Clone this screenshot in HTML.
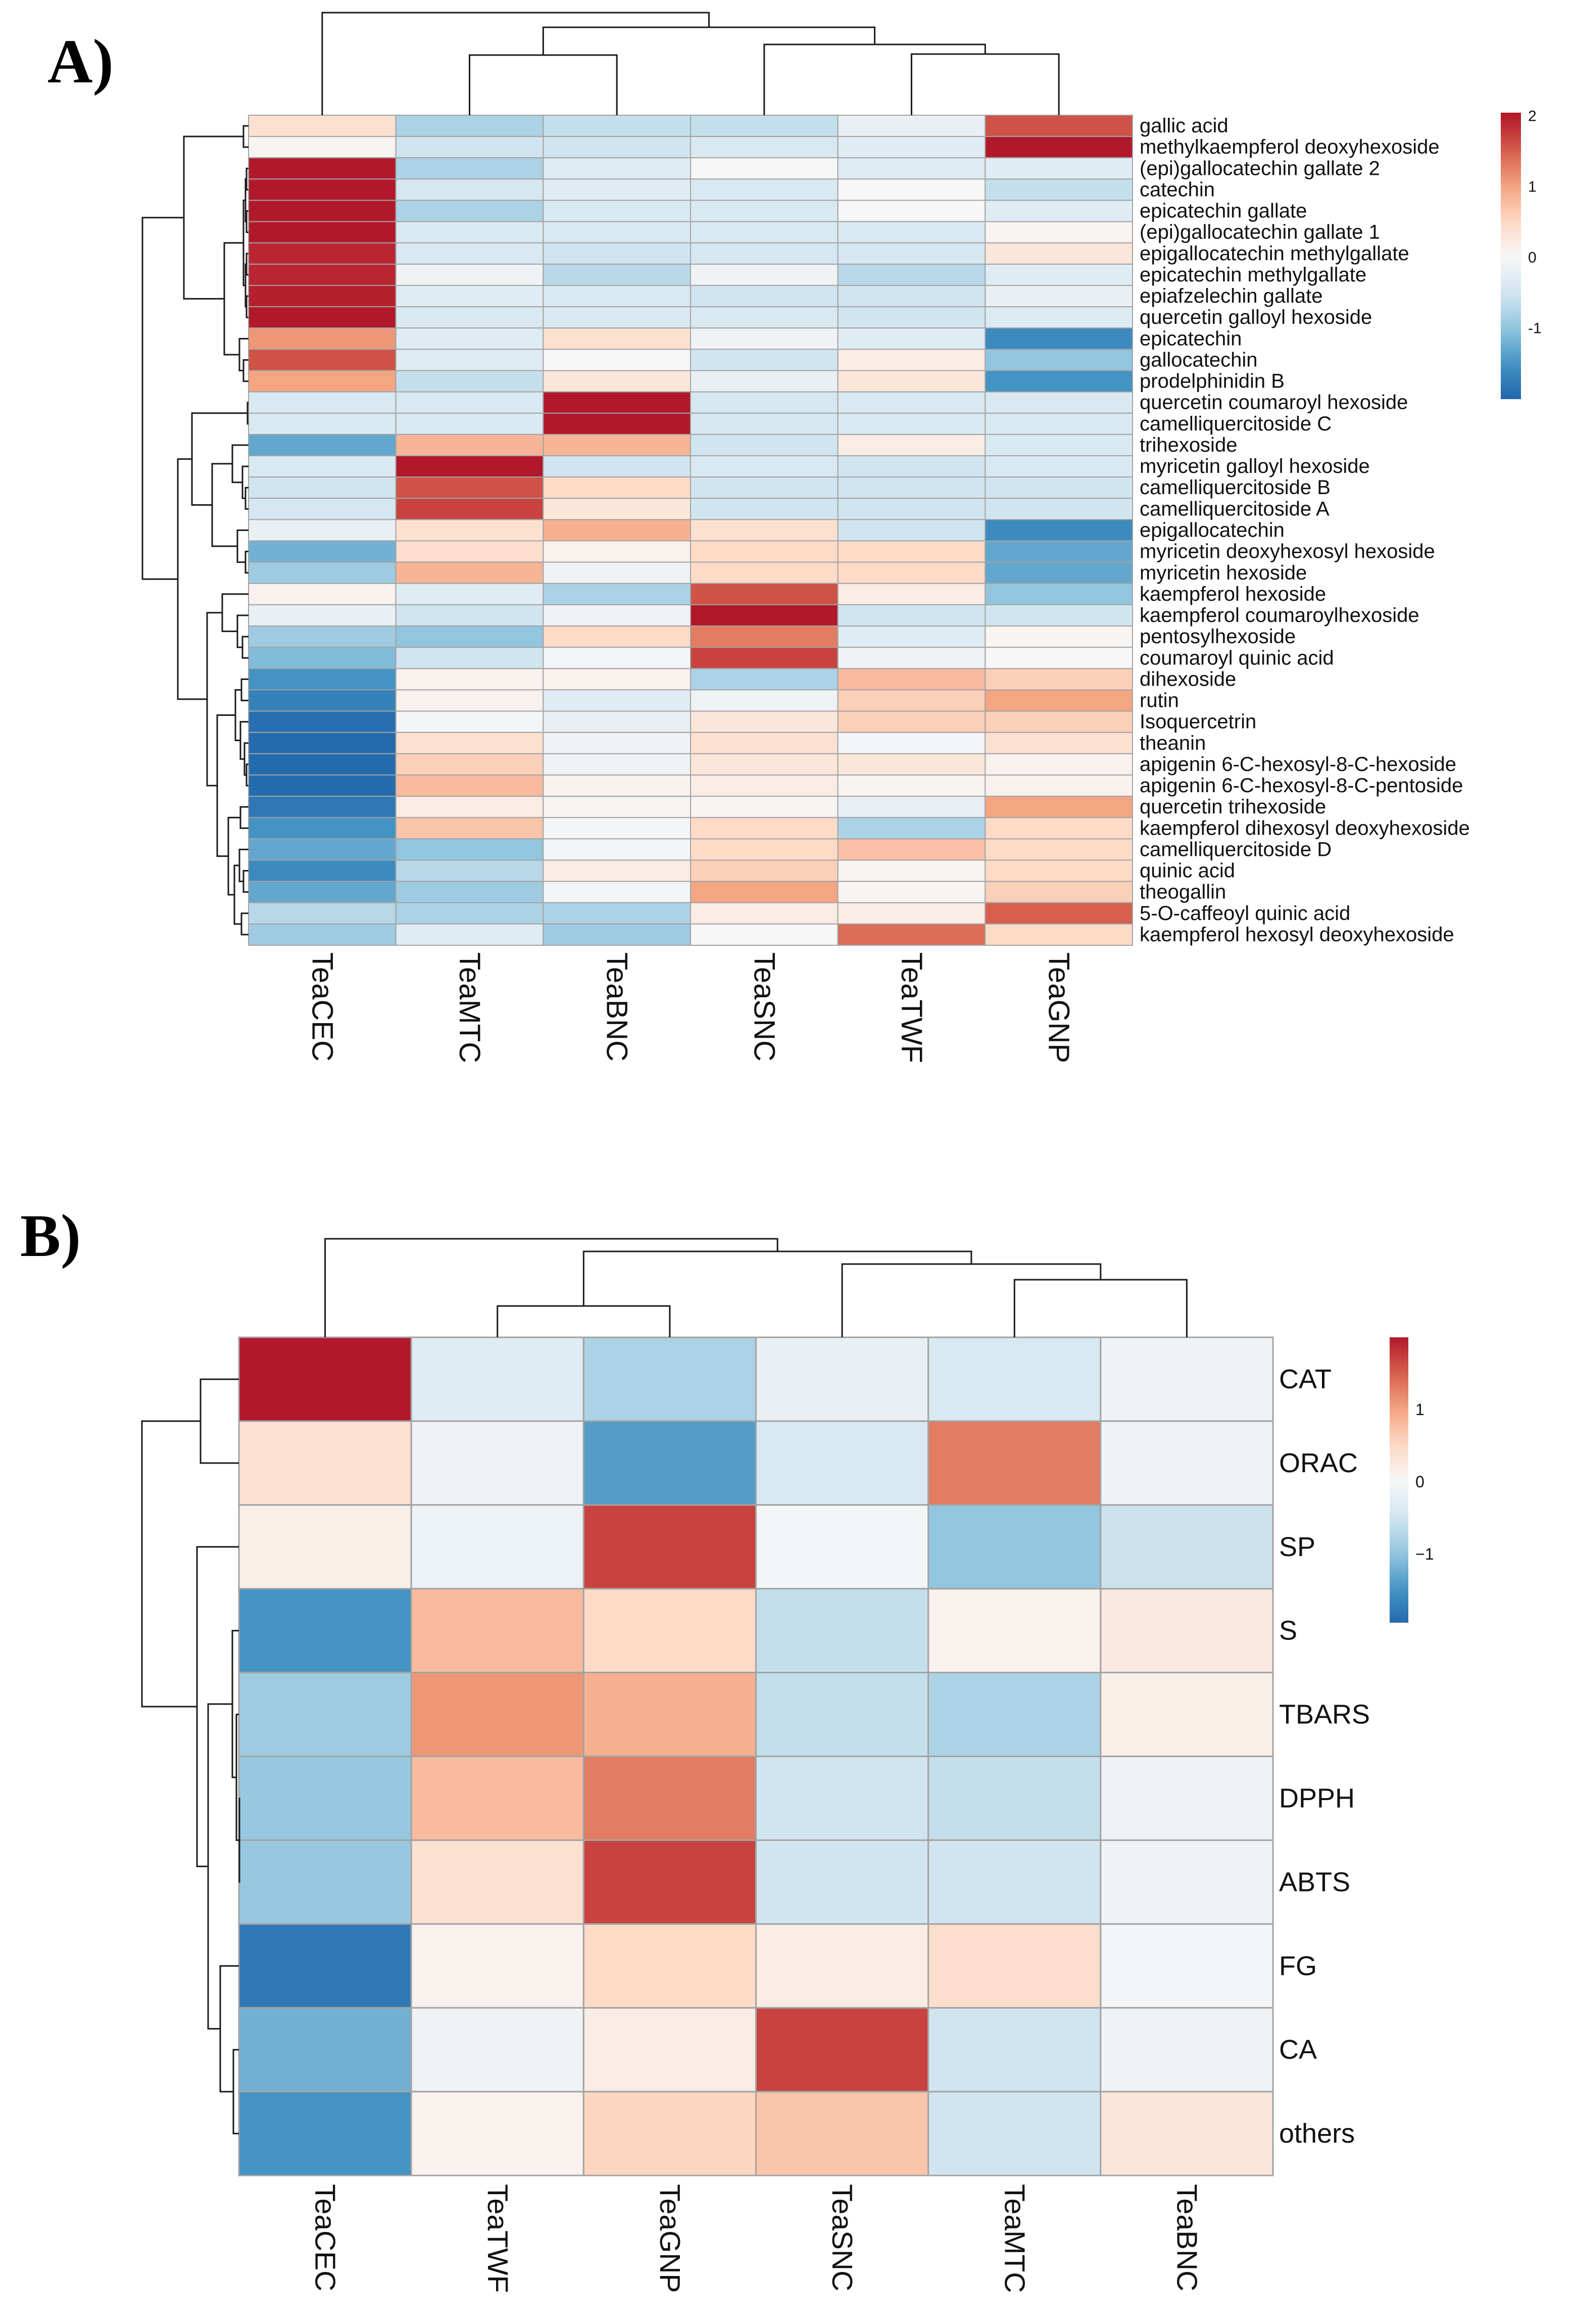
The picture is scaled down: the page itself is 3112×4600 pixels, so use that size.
<!DOCTYPE html>
<html><head><meta charset="utf-8">
<style>
html,body{margin:0;padding:0;background:#fff;}
svg{display:block;font-family:"Liberation Sans",Arial,sans-serif;}
</style></head>
<body>
<svg id="chart" width="3112" height="4600" viewBox="0 0 3112 4600" xmlns="http://www.w3.org/2000/svg">
<defs id="defs"></defs>
<text x="94" y="163" font-family="Liberation Serif, serif" font-weight="bold" font-size="124">A)</text>
<text x="40" y="2486" font-family="Liberation Serif, serif" font-weight="bold" font-size="120">B)</text>
</svg>
<script>
// ---------- Panel A data ----------
const rowsA = ["gallic acid","methylkaempferol deoxyhexoside","(epi)gallocatechin gallate 2","catechin","epicatechin gallate","(epi)gallocatechin gallate 1","epigallocatechin methylgallate","epicatechin methylgallate","epiafzelechin gallate","quercetin galloyl hexoside","epicatechin","gallocatechin","prodelphinidin B","quercetin coumaroyl hexoside","camelliquercitoside C","trihexoside","myricetin galloyl hexoside","camelliquercitoside B","camelliquercitoside A","epigallocatechin","myricetin deoxyhexosyl hexoside","myricetin hexoside","kaempferol hexoside","kaempferol coumaroylhexoside","pentosylhexoside","coumaroyl quinic acid","dihexoside","rutin","Isoquercetrin","theanin","apigenin 6-C-hexosyl-8-C-hexoside","apigenin 6-C-hexosyl-8-C-pentoside","quercetin trihexoside","kaempferol dihexosyl deoxyhexoside","camelliquercitoside D","quinic acid","theogallin","5-O-caffeoyl quinic acid","kaempferol hexosyl deoxyhexoside"];
const colsA = ["TeaCEC","TeaMTC","TeaBNC","TeaSNC","TeaTWF","TeaGNP"];
const valsA = [
[0.4,-0.8,-0.6,-0.6,-0.2,1.6],
[0.05,-0.5,-0.5,-0.4,-0.3,2.0],
[2.0,-0.8,-0.3,0.0,-0.3,-0.3],
[2.0,-0.45,-0.3,-0.4,0.0,-0.6],
[2.0,-0.8,-0.4,-0.4,0.0,-0.3],
[2.0,-0.4,-0.4,-0.4,-0.4,0.05],
[1.9,-0.4,-0.5,-0.45,-0.45,0.3],
[1.9,-0.1,-0.7,-0.1,-0.7,-0.3],
[1.95,-0.3,-0.4,-0.5,-0.5,-0.2],
[2.0,-0.4,-0.4,-0.4,-0.5,-0.35],
[1.1,-0.3,0.4,-0.1,-0.3,-1.6],
[1.6,-0.3,0.0,-0.5,0.2,-1.0],
[1.0,-0.6,0.3,-0.2,0.3,-1.5],
[-0.4,-0.4,2.0,-0.45,-0.4,-0.4],
[-0.4,-0.4,2.0,-0.45,-0.4,-0.4],
[-1.3,0.85,0.85,-0.5,0.2,-0.4],
[-0.4,2.0,-0.5,-0.4,-0.5,-0.4],
[-0.5,1.6,0.5,-0.5,-0.5,-0.5],
[-0.45,1.7,0.3,-0.5,-0.5,-0.5],
[-0.2,0.4,0.9,0.4,-0.5,-1.6],
[-1.2,0.45,0.1,0.5,0.5,-1.3],
[-0.9,0.85,-0.1,0.5,0.5,-1.3],
[0.1,-0.3,-0.8,1.6,0.2,-1.0],
[-0.2,-0.5,-0.1,2.0,-0.5,-0.5],
[-0.9,-1.0,0.5,1.3,-0.3,0.05],
[-1.1,-0.5,-0.05,1.7,-0.1,0.0],
[-1.5,0.1,0.1,-0.8,0.8,0.6],
[-1.7,0.1,-0.3,-0.1,0.6,1.0],
[-1.9,-0.05,-0.2,0.3,0.6,0.6],
[-1.95,0.4,-0.1,0.4,-0.05,0.4],
[-1.95,0.6,-0.1,0.3,0.3,0.1],
[-1.95,0.8,0.1,0.2,0.05,0.1],
[-1.8,0.2,0.05,0.05,-0.2,1.0],
[-1.5,0.7,-0.05,0.5,-0.8,0.5],
[-1.3,-1.0,-0.05,0.5,0.75,0.5],
[-1.6,-0.7,0.2,0.6,0.05,0.5],
[-1.3,-0.9,-0.05,1.0,0.05,0.6],
[-0.7,-0.8,-0.8,0.2,0.2,1.5],
[-0.9,-0.3,-0.9,0.0,1.4,0.5]];
const ticksA = [2,1,0,-1];
// dendrograms: [left, right, height]
const treeA1 = [[0,1,482],[[[[2,3,488],[4,5,488],486],[[6,7,488],[8,9,488],486],482],[10,[11,12,482],474],444],364];
const treeA2a = [[13,14,490],[[15,[16,[17,18,486],480],460],[19,[20,21,486],470],420],380];
const treeA2b = [[22,[23,[24,25,480],470],440],[[[26,27,478],[28,[29,[30,31,488],484],476],466],[[32,33,476],[[34,[35,36,482],474],[37,38,478],464],452],430],410];
const rowTreeA = [treeA1,[treeA2a,treeA2b,352],282];
const colTreeA = [0,[[1,2,109],[3,[4,5,107],88],54],25];

// ---------- Panel B data ----------
const rowsB = ["CAT","ORAC","SP","S","TBARS","DPPH","ABTS","FG","CA","others"];
const colsB = ["TeaCEC","TeaTWF","TeaGNP","TeaSNC","TeaMTC","TeaBNC"];
const valsB = [
[2.0,-0.3,-0.8,-0.2,-0.4,-0.1],
[0.4,-0.1,-1.4,-0.4,1.3,-0.1],
[0.15,-0.15,1.7,-0.05,-1.0,-0.55],
[-1.5,0.8,0.5,-0.6,0.1,0.25],
[-0.9,1.1,0.9,-0.6,-0.8,0.15],
[-0.95,0.8,1.3,-0.5,-0.6,-0.1],
[-0.95,0.4,1.7,-0.5,-0.5,-0.1],
[-1.8,0.1,0.5,0.2,0.45,-0.05],
[-1.2,-0.1,0.2,1.7,-0.5,-0.1],
[-1.5,0.1,0.55,0.7,-0.5,0.3]];
const ticksB = [1,0,-1];
const rowTreeB = [[0,1,397],[2,[[3,[4,[5,6,474],468],460],[7,[8,9,462],436],412],390],281];
const colTreeB = [0,[[1,2,2585],[3,[4,5,2533],2502],2477],2452];

// ---------- palette ----------
const pal = ["#2166AC","#4393C3","#92C5DE","#D1E5F0","#F7F7F7","#FDDBC7","#F4A582","#D6604D","#B2182B"];
function hex(c){return [1,3,5].map(function(i){return parseInt(c.substr(i,2),16);});}
function color(v){
  var t=(Math.max(-2,Math.min(2,v))+2)/4*(pal.length-1);
  var i=Math.min(pal.length-2,Math.floor(t)),f=t-i;
  var a=hex(pal[i]),b=hex(pal[i+1]);
  return "rgb("+a.map(function(x,k){return Math.round(x+(b[k]-x)*f);}).join(",")+")";
}
const NS="http://www.w3.org/2000/svg";
const svg=document.getElementById("chart");
function el(tag,attrs,parent){var e=document.createElementNS(NS,tag);for(var k in attrs)e.setAttribute(k,attrs[k]);(parent||svg).appendChild(e);return e;}

function drawPanel(P){
  var g=el("g",{});
  
  
  var nr=P.rows.length,nc=P.cols.length;
  var cw=(P.right-P.left)/nc, rh=(P.bottom-P.top)/nr;
  var xc=function(i){return P.left+cw*(i+0.5);}, yc=function(j){return P.top+rh*(j+0.5);};
  for(var r=0;r<nr;r++)for(var c=0;c<nc;c++){
    var rc=el("rect",{x:P.left+c*cw,y:P.top+r*rh,width:cw,height:rh,fill:color(P.vals[r][c]),stroke:"#a3a3a3","stroke-width":P.sw},g);
    
    
  }
  for(var r2=0;r2<nr;r2++){
    var t=el("text",{x:P.labelX,y:yc(r2),"font-size":P.rowFont,"dominant-baseline":"central",fill:"#111"},g);
    t.textContent=P.rows[r2];
    
    
  }
  for(var c2=0;c2<nc;c2++){
    var x=xc(c2),y=P.colLabelY;
    var t2=el("text",{x:x,y:y,"font-size":P.colFont,"dominant-baseline":"central",transform:"rotate(90 "+x+" "+y+")",fill:"#111"},g);
    t2.textContent=P.cols[c2];
    
    
  }
  var dg=el("g",{stroke:"#1a1a1a","stroke-width":P.lw,fill:"none"},g);
  
  
  function rowNode(n){
    if(typeof n==="number")return {p:yc(n),h:P.left};
    var a=rowNode(n[0]),b=rowNode(n[1]),h=n[2];
    el("path",{d:"M"+a.h+","+a.p+"H"+h+"V"+b.p+"H"+b.h},dg);
    return {p:(a.p+b.p)/2,h:h};
  }
  rowNode(P.rowTree);
  var cg=el("g",{stroke:"#1a1a1a","stroke-width":P.lw,fill:"none"},g);
  
  
  function colNode(n){
    if(typeof n==="number")return {p:xc(n),h:P.top};
    var a=colNode(n[0]),b=colNode(n[1]),h=n[2];
    el("path",{d:"M"+a.p+","+a.h+"V"+h+"H"+b.p+"V"+b.h},cg);
    return {p:(a.p+b.p)/2,h:h};
  }
  colNode(P.colTree);
  var L=P.legend, vy=function(v){return L.y0-(v*L.unit);};
  var gid="grad-"+P.id;
  var lg=el("linearGradient",{id:gid,x1:0,y1:0,x2:0,y2:1},document.getElementById("defs"));
  var N=20;
  for(var k=0;k<=N;k++){var v=L.vmax-(L.vmax-L.vmin)*k/N;el("stop",{offset:(k/N),"stop-color":color(v)},lg);}
  var cb=el("rect",{x:L.x,y:vy(L.vmax),width:L.w,height:(L.vmax-L.vmin)*L.unit,fill:"url(#"+gid+")"},g);
  
  
  for(var q=0;q<P.ticks.length;q++){
    var tv=P.ticks[q];
    var t3=el("text",{x:L.x+L.w+L.gap,y:vy(tv),"font-size":L.font,"dominant-baseline":"central",fill:"#111"},g);
    t3.textContent=(tv<0?L.minus+Math.abs(tv):String(tv));
    
    
  }
}

drawPanel({id:"panel-a",rows:rowsA,cols:colsA,vals:valsA,left:492,right:2242,top:228,bottom:1871,sw:2,lw:3,
  labelX:2256,rowFont:40,colFont:58,colLabelY:1885,rowTree:rowTreeA,colTree:colTreeA,ticks:ticksA,
  legend:{x:2971,w:40,y0:510,unit:140,vmax:2.05,vmin:-2.0,gap:14,font:30,minus:"-"}});
drawPanel({id:"panel-b",rows:rowsB,cols:colsB,vals:valsB,left:473,right:2520,top:2647,bottom:4306,sw:3,lw:3,
  labelX:2532,rowFont:54,colFont:57,colLabelY:4323,rowTree:rowTreeB,colTree:colTreeB,ticks:ticksB,
  legend:{x:2751,w:37,y0:2933,unit:143,vmax:2.0,vmin:-1.95,gap:14,font:32,minus:"\u2212"}});
</script>
</body></html>
